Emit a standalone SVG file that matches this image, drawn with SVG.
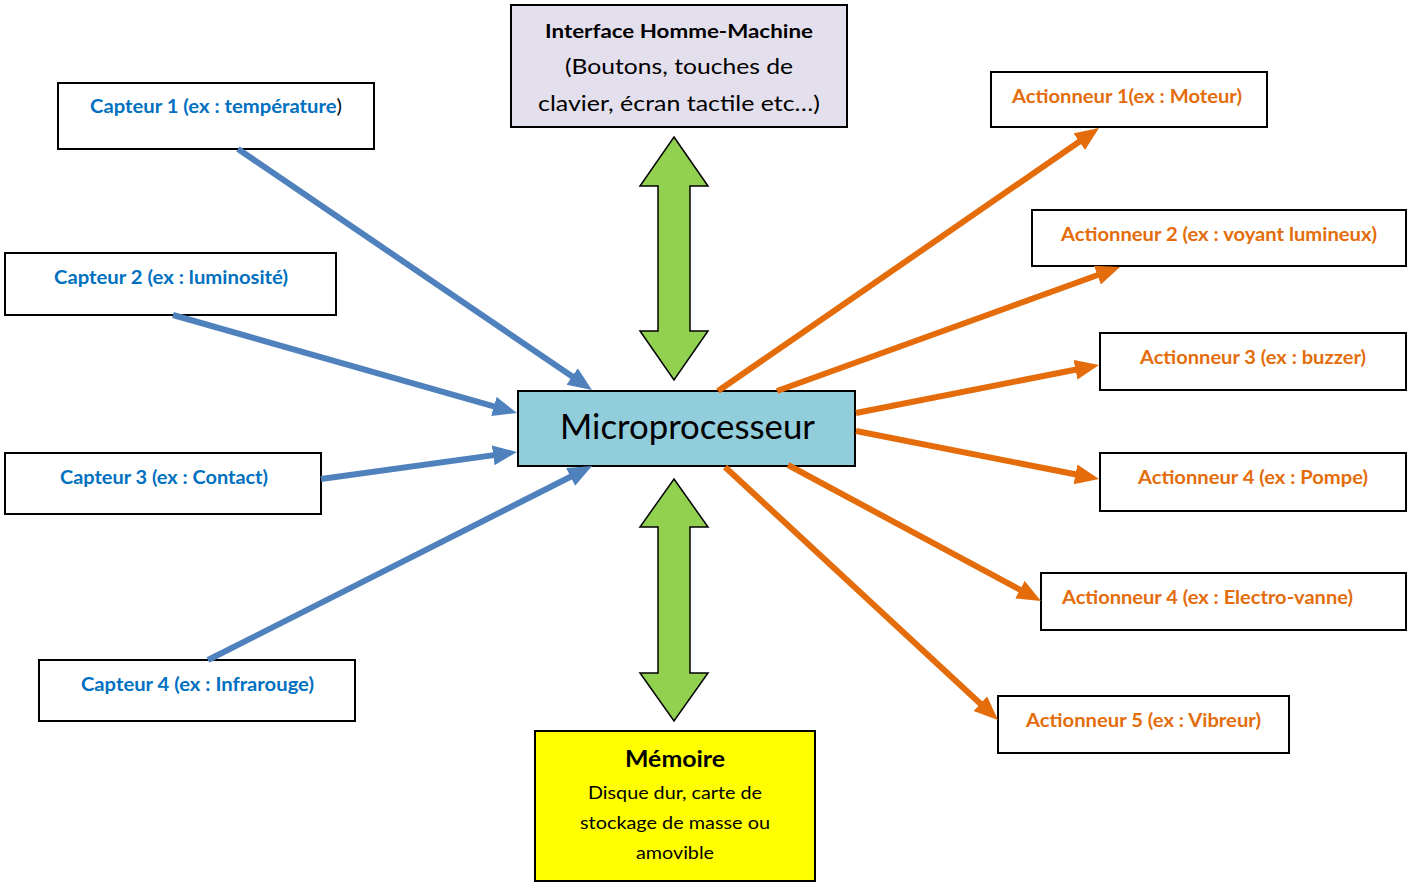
<svg xmlns="http://www.w3.org/2000/svg" width="1407" height="886" viewBox="0 0 1407 886">
<defs>
<style>
.box{stroke:#000;stroke-width:2}
.w{fill:#fff}
.t{font-family:Lato,"Open Sans","Liberation Sans",sans-serif}
.cb{font-weight:bold;font-size:19px;fill:#0070c0}
.ab{font-weight:bold;font-size:19px;fill:#e46c0a}
.blk{fill:#000}
.blue{stroke:#4f81bd;stroke-width:6;fill:none}
.orange{stroke:#e46c0a;stroke-width:6;fill:none}
.green{fill:#92d050;stroke:#000;stroke-width:1.5;stroke-linejoin:miter}
</style>
<marker id="mb" markerUnits="userSpaceOnUse" markerWidth="26" markerHeight="22" refX="10" refY="10" orient="auto" viewBox="0 0 26 22"><path d="M0,0 L24,10 L0,20 Z" fill="#4f81bd"/></marker>
<marker id="mo" markerUnits="userSpaceOnUse" markerWidth="26" markerHeight="22" refX="10" refY="10" orient="auto" viewBox="0 0 26 22"><path d="M0,0 L24,10 L0,20 Z" fill="#e46c0a"/></marker>
</defs>
<rect width="1407" height="886" fill="#fff"/>

<g id="ihm">
<rect class="box" x="511" y="5" width="336" height="122" fill="#e4dfec"/>
<text class="t" x="545" y="38" font-size="18" font-weight="bold" textLength="268" lengthAdjust="spacingAndGlyphs">Interface Homme-Machine</text>
<text class="t" x="565" y="74" font-size="22" textLength="228" lengthAdjust="spacingAndGlyphs">(Boutons, touches de</text>
<text class="t" x="538" y="111" font-size="22" textLength="282" lengthAdjust="spacingAndGlyphs">clavier, écran tactile etc…)</text>
</g>

<g id="micro">
<rect class="box" x="518" y="391" width="337" height="75" fill="#92cddc"/>
<text class="t" x="560" y="439" font-size="34" textLength="255" lengthAdjust="spacingAndGlyphs">Microprocesseur</text>
</g>

<g id="memoire">
<rect class="box" x="535" y="731" width="280" height="150" fill="#ffff00"/>
<text class="t" x="625" y="767" font-size="22" font-weight="bold" textLength="100" lengthAdjust="spacingAndGlyphs">Mémoire</text>
<text class="t" x="588" y="799" font-size="17" textLength="174" lengthAdjust="spacingAndGlyphs">Disque dur, carte de</text>
<text class="t" x="580" y="829" font-size="17" textLength="190" lengthAdjust="spacingAndGlyphs">stockage de masse ou</text>
<text class="t" x="636" y="859" font-size="17" textLength="78" lengthAdjust="spacingAndGlyphs">amovible</text>
</g>

<g id="capteur1">
<rect class="box w" x="58" y="83" width="316" height="66"/>
<text class="t cb" x="90" y="113" textLength="252" lengthAdjust="spacingAndGlyphs">Capteur 1 (ex : température<tspan class="blk" font-weight="normal">)</tspan></text>
</g>
<g id="capteur2">
<rect class="box w" x="5" y="253" width="331" height="62"/>
<text class="t cb" x="54" y="284" textLength="234" lengthAdjust="spacingAndGlyphs">Capteur 2 (ex : luminosité)</text>
</g>
<g id="capteur3">
<rect class="box w" x="5" y="453" width="316" height="61"/>
<text class="t cb" x="60" y="484" textLength="208" lengthAdjust="spacingAndGlyphs">Capteur 3 (ex : Contact)</text>
</g>
<g id="capteur4">
<rect class="box w" x="39" y="660" width="316" height="61"/>
<text class="t cb" x="81" y="691" textLength="233" lengthAdjust="spacingAndGlyphs">Capteur 4 (ex : Infrarouge)</text>
</g>

<g id="actionneur1">
<rect class="box w" x="991" y="72" width="276" height="55"/>
<text class="t ab" x="1012" y="103" textLength="230" lengthAdjust="spacingAndGlyphs">Actionneur 1(ex : Moteur)</text>
</g>
<g id="actionneur2">
<rect class="box w" x="1032" y="210" width="374" height="56"/>
<text class="t ab" x="1061" y="241" textLength="316" lengthAdjust="spacingAndGlyphs">Actionneur 2 (ex : voyant lumineux)</text>
</g>
<g id="actionneur3">
<rect class="box w" x="1100" y="333" width="306" height="57"/>
<text class="t ab" x="1140" y="364" textLength="226" lengthAdjust="spacingAndGlyphs">Actionneur 3 (ex : buzzer)</text>
</g>
<g id="actionneur4">
<rect class="box w" x="1100" y="453" width="306" height="58"/>
<text class="t ab" x="1138" y="484" textLength="230" lengthAdjust="spacingAndGlyphs">Actionneur 4 (ex : Pompe)</text>
</g>
<g id="actionneur4b">
<rect class="box w" x="1041" y="573" width="365" height="57"/>
<text class="t ab" x="1062" y="604" textLength="291" lengthAdjust="spacingAndGlyphs">Actionneur 4 (ex : Electro-vanne)</text>
</g>
<g id="actionneur5">
<rect class="box w" x="998" y="696" width="291" height="57"/>
<text class="t ab" x="1026" y="727" textLength="235" lengthAdjust="spacingAndGlyphs">Actionneur 5 (ex : Vibreur)</text>
</g>

<g id="connectors">
<polygon class="green" points="674,137 708,186 690,186 690,331 708,331 674,380 640,331 658,331 658,186 640,186"/>
<polygon class="green" points="674,479 708,527 690,527 690,673 708,673 674,721 640,673 658,673 658,527 640,527"/>
<line class="blue" x1="238" y1="149" x2="580.4" y2="382.1" marker-end="url(#mb)"/>
<line class="blue" x1="173" y1="315" x2="503.5" y2="409.2" marker-end="url(#mb)"/>
<line class="blue" x1="321" y1="479" x2="503.1" y2="453.9" marker-end="url(#mb)"/>
<line class="blue" x1="208" y1="660" x2="579.5" y2="472.3" marker-end="url(#mb)"/>
<line class="orange" x1="718" y1="391" x2="1087.5" y2="136" marker-end="url(#mo)"/>
<line class="orange" x1="777" y1="391" x2="1106.8" y2="271.8" marker-end="url(#mo)"/>
<line class="orange" x1="856" y1="413" x2="1085.3" y2="367.7" marker-end="url(#mo)"/>
<line class="orange" x1="856" y1="431" x2="1085.3" y2="476.3" marker-end="url(#mo)"/>
<line class="orange" x1="788" y1="465" x2="1028.7" y2="594.4" marker-end="url(#mo)"/>
<line class="orange" x1="725" y1="467" x2="987.7" y2="710.5" marker-end="url(#mo)"/>
</g>
</svg>
